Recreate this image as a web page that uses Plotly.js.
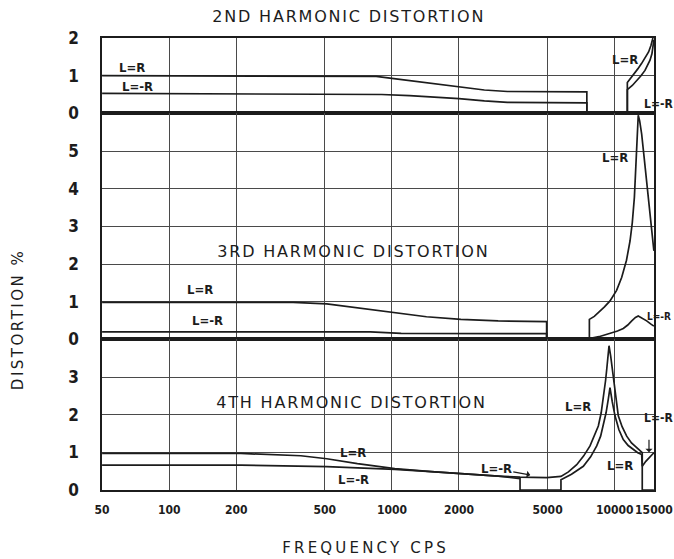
<!DOCTYPE html>
<html>
<head>
<meta charset="utf-8">
<script src="https://cdn.plot.ly/plotly-3.0.1.min.js"></script>
<style>
  html, body { margin: 0; padding: 0; background: #ffffff; }
  #chart { width: 674px; height: 559px; }
</style>
</head>
<body>
<div id="chart"></div>
<script>
// Frequency grid (cps) shared by all three panels
const freqTicks = [50, 100, 200, 500, 1000, 2000, 5000, 10000, 15000];
const freqTickText = ['50', '100', '200', '500', '1000', '2000', '5000', '10000', '15000'];

// 2nd harmonic distortion (%)
const h2LRFreq  = [50, 700, 850, 1000, 1300, 1600, 2000, 2600, 3300, 7500, 7500, 11400, 11400, 11800, 12100, 12700, 13200, 13700, 14200, 14550, 14850];
const h2LRVal   = [1.0, 1.0, 0.98, 0.93, 0.84, 0.77, 0.70, 0.62, 0.58, 0.57, 0, 0, 0.82, 0.93, 1.04, 1.18, 1.32, 1.47, 1.63, 1.80, 2.0];
const h2LmRFreq = [50, 900, 1200, 1600, 2000, 2600, 3300, 7500, 7500, 11400, 11400, 12000, 12560, 13100, 13680, 14100, 14410, 14700, 14910, 15000];
const h2LmRVal  = [0.53, 0.50, 0.47, 0.43, 0.39, 0.33, 0.29, 0.28, 0, 0, 0.63, 0.74, 0.86, 0.99, 1.14, 1.28, 1.41, 1.58, 1.77, 1.95];

// 3rd harmonic distortion (%)
const h3LRFreq  = [50, 360, 510, 750, 1030, 1430, 2040, 3000, 4950, 4950, 7700, 7700, 8100, 8500, 9000, 9530, 10200, 10750, 11300, 11720, 12000, 12260, 12450, 12560, 12680, 12760, 12950, 13220, 13550, 13920, 14250, 14600, 15000];
const h3LRVal   = [0.98, 0.98, 0.94, 0.82, 0.71, 0.60, 0.53, 0.49, 0.47, 0, 0, 0.53, 0.61, 0.72, 0.86, 1.02, 1.30, 1.64, 2.10, 2.61, 3.10, 3.77, 4.50, 5.0, 5.6, 5.95, 5.80, 5.45, 4.85, 4.21, 3.62, 3.06, 2.35];
const h3LmRFreq = [50, 800, 1100, 4950, 4950, 7700, 8500, 9530, 10300, 10930, 11450, 11930, 12400, 12760, 13300, 13920, 14500, 15000];
const h3LmRVal  = [0.20, 0.20, 0.16, 0.15, 0, 0.02, 0.07, 0.15, 0.22, 0.29, 0.38, 0.49, 0.58, 0.62, 0.56, 0.49, 0.41, 0.35];

// 4th harmonic distortion (%)
const h4LRFreq  = [50, 210, 390, 510, 700, 1030, 1500, 2040, 3000, 3760, 4950, 5740, 6200, 6754, 7250, 7751, 8100, 8446, 8700, 8893, 9100, 9211, 9340, 9433, 9600, 9862, 10100, 10383, 10800, 11324, 11900, 12561, 13300, 13300, 15000];
const h4LRVal   = [0.97, 0.97, 0.91, 0.83, 0.70, 0.57, 0.49, 0.43, 0.37, 0.34, 0.33, 0.36, 0.48, 0.67, 0.90, 1.17, 1.42, 1.70, 2.05, 2.41, 2.90, 3.20, 3.55, 3.83, 3.55, 3.03, 2.45, 1.97, 1.68, 1.43, 1.25, 1.12, 0.99, 0, 0];
const h4LmRFreq = [50, 210, 510, 1030, 1500, 2040, 3000, 3760, 3760, 5740, 5740, 6400, 7232, 7800, 8308, 8650, 8893, 9150, 9363, 9528, 9750, 10035, 10450, 10932, 11500, 12121, 12700, 13222, 13300, 13800, 14400, 15000];
const h4LmRVal  = [0.66, 0.66, 0.62, 0.55, 0.49, 0.43, 0.37, 0.30, 0, 0, 0.27, 0.42, 0.63, 0.88, 1.17, 1.43, 1.70, 2.05, 2.41, 2.72, 2.35, 1.97, 1.60, 1.34, 1.18, 1.07, 0.99, 0.94, 0.63, 0.76, 0.88, 0.99];

const INK = '#1c1c1c';
const GRID = '#4a4a4a';
const NARROW = 'DejaVu Sans Condensed, Liberation Sans Narrow, sans-serif';
const WIDE = 'DejaVu Sans, Verdana, sans-serif';

function curve(x, y, xa, ya) {
  return {
    type: 'scatter', mode: 'lines', x: x, y: y,
    xaxis: xa, yaxis: ya,
    line: { color: INK, width: 1.7, shape: 'linear' },
    hoverinfo: 'skip', showlegend: false
  };
}

const traces = [
  curve(h2LRFreq, h2LRVal, 'x', 'y'),
  curve(h2LmRFreq, h2LmRVal, 'x', 'y'),
  curve(h3LRFreq, h3LRVal, 'x2', 'y2'),
  curve(h3LmRFreq, h3LmRVal, 'x2', 'y2'),
  curve(h4LRFreq, h4LRVal, 'x3', 'y3'),
  curve(h4LmRFreq, h4LmRVal, 'x3', 'y3')
];

// a hair of extra room so the 15000 tick at the right edge is kept
const xRange = [Math.log10(50) - 0.0005, Math.log10(15000) + 0.0005];
function xAxis(anchor, labels) {
  return {
    type: 'log', range: xRange, anchor: anchor,
    tickmode: 'array', tickvals: freqTicks, ticktext: freqTickText,
    showticklabels: labels, ticklabeloverflow: 'allow', tickangle: 0,
    ticks: labels ? 'outside' : '', ticklen: 8, tickcolor: 'rgba(0,0,0,0)',
    tickfont: { family: NARROW, size: 12, color: INK, weight: 'bold' },
    showgrid: true, gridcolor: GRID, gridwidth: 1,
    showline: true, mirror: true, linecolor: INK, linewidth: 2,
    zeroline: false, fixedrange: true
  };
}
function yAxis(domain, top, labelVals, anchor) {
  return {
    domain: domain, range: [0, top], anchor: anchor,
    tickmode: 'array', tickvals: labelVals, ticktext: labelVals.map(String),
    ticks: 'outside', ticklen: 18, tickcolor: 'rgba(0,0,0,0)',
    tickfont: { family: NARROW, size: 17, color: INK, weight: 'bold' },
    showgrid: true, gridcolor: GRID, gridwidth: 1,
    showline: true, mirror: true, linecolor: INK, linewidth: 1.6,
    zeroline: false, fixedrange: true
  };
}

const lx = f => Math.log10(f);
function lbl(text, f, v, xref, yref, extra) {
  return Object.assign({
    text: text, x: lx(f), y: v, xref: xref, yref: yref,
    showarrow: false, xanchor: 'center', yanchor: 'middle',
    font: { family: NARROW, size: 13, color: INK, weight: 'bold' }
  }, extra || {});
}
function title(text, x, y, xref, yref) {
  return {
    text: text, x: x, y: y, xref: xref, yref: yref,
    showarrow: false, xanchor: 'center', yanchor: 'middle',
    font: { family: WIDE, size: 16, color: INK }
  };
}

const annotations = [
  // panel headings
  title('2ND HARMONIC DISTORTION', 0.4475, 1.047, 'paper', 'paper'),
  title('3RD HARMONIC DISTORTION', lx(669), 2.32, 'x2', 'y2'),
  title('4TH HARMONIC DISTORTION', lx(659), 2.33, 'x3', 'y3'),
  // axis titles
  Object.assign(title('FREQUENCY CPS', 0.478, -0.128, 'paper', 'paper'), { font: { family: WIDE, size: 15, color: INK } }),
  Object.assign(title('DISTORTION %', -0.152, 0.376, 'paper', 'paper'), { textangle: -90, font: { family: WIDE, size: 15, color: INK } }),
  // curve labels, 2nd harmonic
  lbl('L=R', 68, 1.22, 'x', 'y'),
  lbl('L=-R', 72, 0.70, 'x', 'y'),
  lbl('L=R', 11130, 1.44, 'x', 'y'),
  lbl('L=-R', 13300, 0.26, 'x', 'y', { xanchor: 'left', font: { family: NARROW, size: 12, color: INK, weight: 'bold' } }),
  // curve labels, 3rd harmonic
  lbl('L=R', 138, 1.31, 'x2', 'y2'),
  lbl('L=-R', 148, 0.51, 'x2', 'y2'),
  lbl('L=R', 10035, 4.83, 'x2', 'y2'),
  lbl('L=-R', 15000, 0.60, 'x2', 'y2', { xanchor: 'right', xshift: 19, font: { family: NARROW, size: 10, color: INK, weight: 'bold' } }),
  // curve labels, 4th harmonic
  lbl('L=R', 669, 0.99, 'x3', 'y3'),
  lbl('L=-R', 669, 0.27, 'x3', 'y3'),
  lbl('L=-R', 4950, 0.36, 'x3', 'y3', {
    showarrow: true, arrowhead: 1, arrowsize: 1, arrowwidth: 1.2, arrowcolor: INK,
    ax: -34, ay: -6, x: lx(4180), y: 0.40
  }),
  lbl('L=R', 6846, 2.21, 'x3', 'y3'),
  lbl('L=R', 10570, 0.64, 'x3', 'y3'),
  lbl('L=-R', 13260, 1.92, 'x3', 'y3', { xanchor: 'left', font: { family: NARROW, size: 12, color: INK, weight: 'bold' } }),
  lbl('', 14260, 1.0, 'x3', 'y3', {
    showarrow: true, arrowhead: 1, arrowsize: 1, arrowwidth: 1.2, arrowcolor: INK,
    ax: 0, ay: -14
  })
];

const layout = {
  width: 674, height: 559,
  margin: { l: 102, r: 20, t: 38, b: 69 },
  paper_bgcolor: '#ffffff', plot_bgcolor: '#ffffff',
  showlegend: false,
  xaxis: xAxis('y', false),
  xaxis2: Object.assign(xAxis('y2', false), { matches: 'x' }),
  xaxis3: Object.assign(xAxis('y3', true), { matches: 'x' }),
  yaxis: yAxis([10 / 12, 1], 2, [0, 1, 2], 'x'),
  yaxis2: yAxis([4 / 12, 10 / 12], 6, [0, 1, 2, 3, 4, 5], 'x2'),
  yaxis3: yAxis([0, 4 / 12], 4, [0, 1, 2, 3], 'x3'),
  annotations: annotations
};

Plotly.newPlot('chart', traces, layout, { staticPlot: true, displayModeBar: false }).then(function (gd) {
  // wide lettering for the headings and axis titles
  const spacing = {
    '2ND HARMONIC DISTORTION': '1.8px',
    '3RD HARMONIC DISTORTION': '1.8px',
    '4TH HARMONIC DISTORTION': '1.8px',
    'FREQUENCY CPS': '3.2px',
    'DISTORTION %': '2.5px'
  };
  gd.querySelectorAll('.annotation-text').forEach(function (t) {
    const s = spacing[t.textContent];
    if (s) t.style.letterSpacing = s;
  });
  // tighter figures on the frequency scale so 10000 and 15000 stay apart
  gd.querySelectorAll('.xtick text').forEach(function (t) {
    t.style.letterSpacing = '-1px';
  });
});
</script>
</body>
</html>
